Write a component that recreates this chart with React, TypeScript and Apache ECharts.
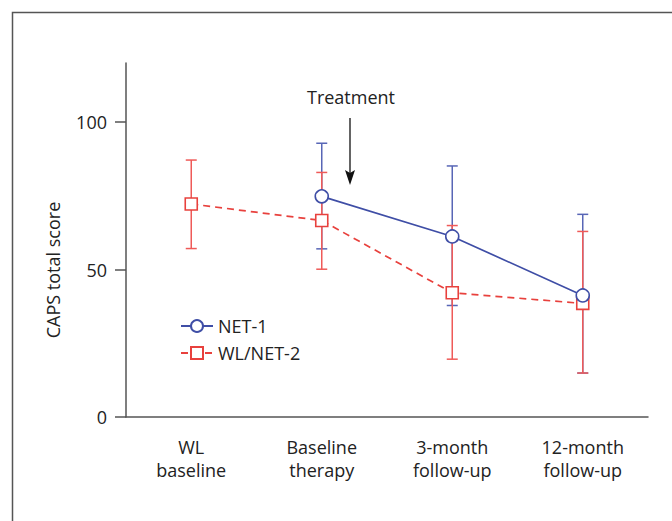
import React, { useEffect, useRef } from "react";
import * as echarts from "echarts";

const categories = ["WL\nbaseline", "Baseline\ntherapy", "3-month\nfollow-up", "12-month\nfollow-up"];
const yTicks = [0, 50, 100];

const net1Mean = [null, 74.8, 61.2, 41.2];
const net1Low = [null, 57.0, 37.8, 14.9];
const net1High = [null, 92.8, 85.1, 68.7];

const wlMean = [72.2, 66.6, 42.1, 38.5];
const wlLow = [57.1, 50.1, 19.6, 14.9];
const wlHigh = [87.1, 82.9, 64.9, 62.9];

const BLUE = "#3f4ea6";
const BLUE_ERR = "#5866b6";
const RED = "#e8413d";
const RED_ERR = "#ef5a58";
const AXIS = "#555555";
const TEXT = "#222222";
const FONT = "Open Sans";

function errData(low: (number | null)[], high: (number | null)[]) {
  const out: any[] = [];
  low.forEach((l, i) => {
    if (l != null && high[i] != null) out.push([i, l, high[i]]);
  });
  return out;
}

function errRender(color: string) {
  return (params: any, api: any) => {
    const i = api.value(0);
    const lo = api.coord([i, api.value(1)]);
    const hi = api.coord([i, api.value(2)]);
    const w = 5.5;
    const style = { stroke: color, lineWidth: 1.5 };
    return {
      type: "group",
      children: [
        { type: "line", shape: { x1: hi[0], y1: hi[1], x2: lo[0], y2: lo[1] }, style },
        { type: "line", shape: { x1: hi[0] - w, y1: hi[1], x2: hi[0] + w, y2: hi[1] }, style },
        { type: "line", shape: { x1: lo[0] - w, y1: lo[1], x2: lo[0] + w, y2: lo[1] }, style },
      ],
    };
  };
}

export default function App() {
  const ref = useRef<HTMLDivElement>(null);
  useEffect(() => {
    document.body.style.margin = "0";
    if (!ref.current) return;
    const chart = echarts.init(ref.current, null, { renderer: "svg" });
    chart.setOption({
      animation: false,
      backgroundColor: "#ffffff",
      textStyle: { fontFamily: FONT, color: TEXT },
      grid: { left: 126, right: 24, top: 63, bottom: 104 },
      legend: {
        orient: "vertical",
        left: 175,
        top: 312,
        itemWidth: 32,
        itemHeight: 15,
        itemGap: 9,
        textStyle: { fontFamily: FONT, fontSize: 18, color: TEXT },
        data: ["NET-1", "WL/NET-2"],
      },
      xAxis: {
        type: "category",
        data: categories,
        boundaryGap: true,
        axisLine: { lineStyle: { color: AXIS, width: 1.5 } },
        axisTick: { alignWithLabel: true, length: 10, lineStyle: { color: AXIS, width: 1.5 } },
        axisLabel: { fontFamily: FONT, fontSize: 18, color: TEXT, margin: 18, lineHeight: 23 },
        splitLine: { show: false },
      },
      yAxis: {
        type: "value",
        min: 0,
        max: 120,
        interval: 10,
        name: "CAPS total score",
        nameLocation: "middle",
        nameGap: 64,
        nameTextStyle: { fontFamily: FONT, fontSize: 18, color: TEXT, padding: [0, 60, 0, 0] },
        axisLine: { show: true, lineStyle: { color: AXIS, width: 1.5 } },
        axisTick: { show: true, length: 11, customValues: yTicks, lineStyle: { color: AXIS, width: 1.5 } },
        axisLabel: { fontFamily: FONT, fontSize: 18, color: TEXT, margin: 19, customValues: yTicks },
        splitLine: { show: false },
      },
      series: [
        {
          type: "custom",
          name: "errNet1",
          renderItem: errRender(BLUE_ERR),
          data: errData(net1Low, net1High),
          z: 1,
          silent: true,
        },
        {
          type: "custom",
          name: "errWl",
          renderItem: errRender(RED_ERR),
          data: errData(wlLow, wlHigh),
          z: 1,
          silent: true,
        },
        {
          type: "line",
          name: "WL/NET-2",
          data: wlMean,
          symbol: "rect",
          symbolSize: 12,
          showAllSymbol: true,
          lineStyle: { color: RED, width: 1.7, type: [7, 5] },
          itemStyle: { color: "#ffffff", borderColor: RED, borderWidth: 1.6 },
          z: 3,
        },
        {
          type: "line",
          name: "NET-1",
          data: net1Mean,
          symbol: "circle",
          symbolSize: 13,
          showAllSymbol: true,
          connectNulls: false,
          lineStyle: { color: BLUE, width: 1.7 },
          itemStyle: { color: "#ffffff", borderColor: BLUE, borderWidth: 1.6 },
          z: 4,
        },
      ],
      graphic: [
        {
          type: "rect",
          shape: { x: 12.5, y: 12.5, width: 700, height: 600 },
          style: { fill: "none", stroke: AXIS, lineWidth: 1.5 },
          silent: true,
        },
        {
          type: "text",
          x: 351,
          y: 97,
          style: {
            text: "Treatment",
            fontFamily: FONT,
            fontSize: 18,
            fill: TEXT,
            textAlign: "center",
            textVerticalAlign: "middle",
          },
        },
        {
          type: "line",
          shape: { x1: 350, y1: 118, x2: 350, y2: 176 },
          style: { stroke: "#111111", lineWidth: 1.3 },
        },
        {
          type: "polygon",
          shape: { points: [[345, 170], [350, 173], [355, 170], [350, 185]] },
          style: { fill: "#111111" },
        },
      ],
    });
    return () => chart.dispose();
  }, []);
  return <div ref={ref} style={{ width: 672, height: 521 }} />;
}
